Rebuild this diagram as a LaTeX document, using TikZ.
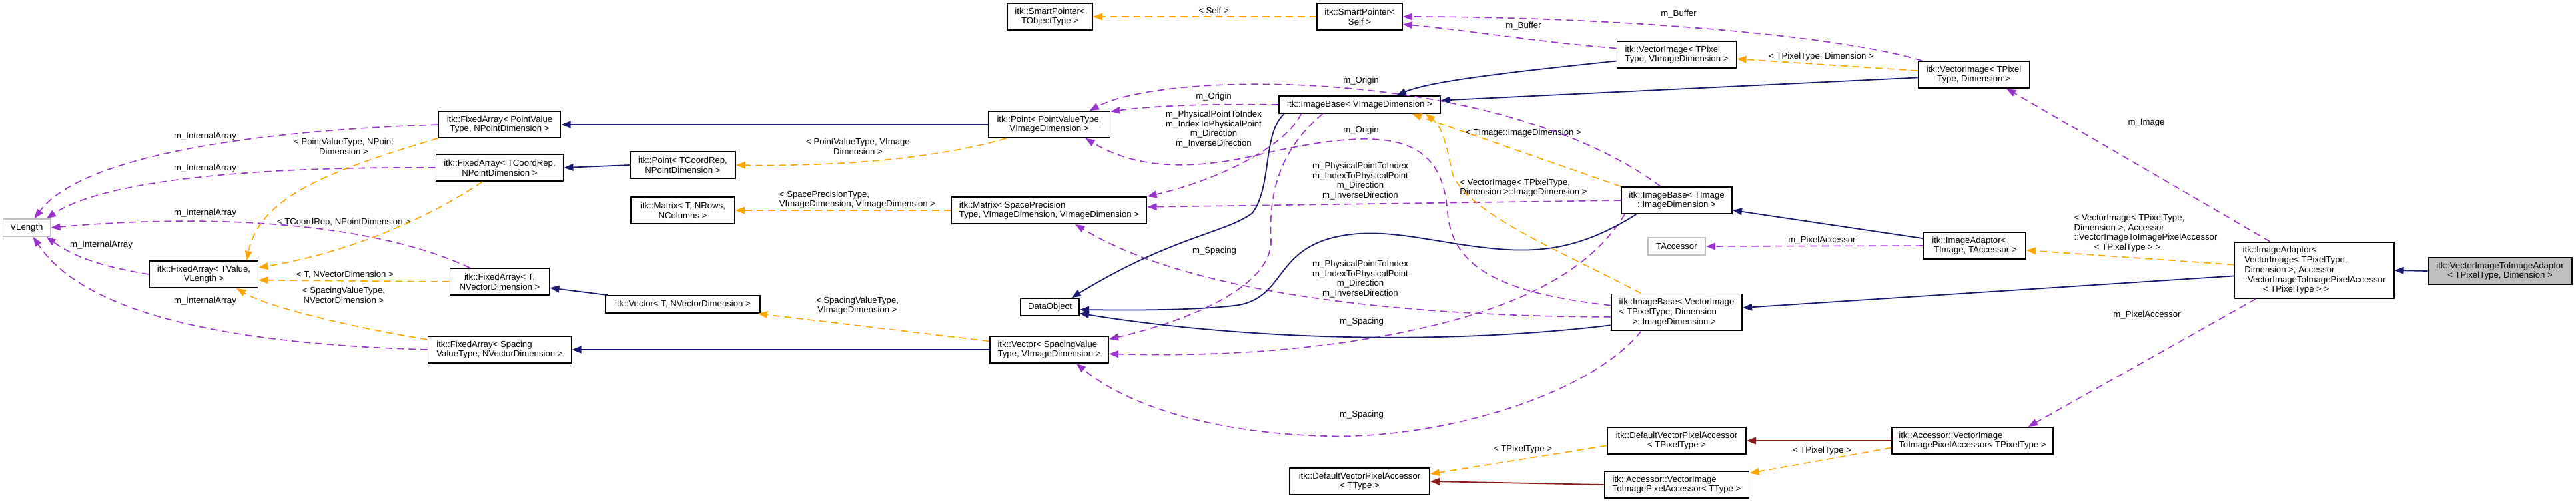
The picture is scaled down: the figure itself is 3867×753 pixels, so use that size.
\documentclass[tikz,border=0pt]{standalone}
\usepackage{fontspec}
\setmainfont{Liberation Sans}
\usetikzlibrary{arrows.meta}

\definecolor{usecol}{HTML}{9A32CD}
\definecolor{tplcol}{HTML}{FFA500}
\definecolor{inhcol}{HTML}{191970}
\definecolor{privcol}{HTML}{8B1A1A}
\definecolor{extcol}{HTML}{BFBFBF}

\tikzset{
  cls/.style={draw, fill=white, line width=0.5pt, align=center, inner sep=1pt,
    font={\fontsize{3.75}{4.2}\selectfont}},
  extcls/.style={cls, draw=extcol},
  lbl/.style={align=center, inner sep=0pt, font={\fontsize{3.75}{4.2}\selectfont}},
  usedge/.style={draw=usecol, line width=0.45pt, dash pattern=on 3pt off 2pt,
    -{Triangle[length=4pt,width=3pt]}},
  tpledge/.style={usedge, draw=tplcol},
  inhedge/.style={draw=inhcol, line width=0.5pt, -{Triangle[length=4pt,width=3pt]}},
  privedge/.style={inhedge, draw=privcol},
}

\begin{document}
\begin{tikzpicture}[x=0.01cm, y=-0.01cm]
	\useasboundingbox (0,0) rectangle (3867,753);
	
	% Clases
	\node[extcls, minimum width=0.71cm, minimum height=0.26cm] (vlen) at (40,342) {VLength};
	\node[cls, minimum width=1.63cm, minimum height=0.40cm] (faval) at (306,412) {itk::FixedArray< TValue,\\VLength >};
	\node[cls, minimum width=1.83cm, minimum height=0.40cm] (fapvt) at (750,187) {itk::FixedArray< PointValue\\Type, NPointDimension >};
	\node[cls, minimum width=1.91cm, minimum height=0.40cm] (facr) at (750,252) {itk::FixedArray< TCoordRep,\\NPointDimension >};
	\node[cls, minimum width=1.49cm, minimum height=0.40cm] (fat) at (750,423) {itk::FixedArray< T,\\NVectorDimension >};
	\node[cls, align=left, minimum width=2.15cm, minimum height=0.40cm] (fasp) at (750,525) {itk::FixedArray< Spacing\\ValueType, NVectorDimension >};
	\node[cls, minimum width=1.58cm, minimum height=0.40cm] (ptcr) at (1025,248) {itk::Point< TCoordRep,\\NPointDimension >};
	\node[cls, minimum width=1.56cm, minimum height=0.40cm] (mxt) at (1025,316) {itk::Matrix< T, NRows,\\NColumns >};
	\node[cls, minimum width=2.32cm, minimum height=0.26cm] (vect) at (1025,457) {itk::Vector< T, NVectorDimension >};
	\node[cls, minimum width=1.28cm, minimum height=0.40cm] (sptot) at (1576,25) {itk::SmartPointer<\\TObjectType >};
	\node[cls, minimum width=1.83cm, minimum height=0.40cm] (ptpvt) at (1575,187) {itk::Point< PointValueType,\\VImageDimension >};
	\node[cls, align=left, minimum width=2.93cm, minimum height=0.40cm] (mxsp) at (1575,316) {itk::Matrix< SpacePrecision\\Type, VImageDimension, VImageDimension >};
	\node[cls, minimum width=0.88cm, minimum height=0.26cm] (dobj) at (1576,461) {DataObject};
	\node[cls, align=left, minimum width=1.78cm, minimum height=0.40cm] (vecsp) at (1575,525) {itk::Vector< SpacingValue\\Type, VImageDimension >};
	\node[cls, minimum width=1.28cm, minimum height=0.40cm] (spself) at (2041,25) {itk::SmartPointer<\\Self >};
	\node[cls, minimum width=2.42cm, minimum height=0.26cm] (ibv) at (2041,157) {itk::ImageBase< VImageDimension >};
	\node[cls, minimum width=2.10cm, minimum height=0.40cm] (dvpt) at (2041,723) {itk::DefaultVectorPixelAccessor\\< TType >};
	\node[cls, align=left, minimum width=1.79cm, minimum height=0.40cm] (vimg) at (2517,82) {itk::VectorImage< TPixel\\Type, VImageDimension >};
	\node[cls, minimum width=1.66cm, minimum height=0.40cm] (ibt) at (2517,301) {itk::ImageBase< TImage\\::ImageDimension >};
	\node[extcls, minimum width=0.86cm, minimum height=0.26cm] (tacc) at (2517,370) {TAccessor};
	\node[cls, align=left, minimum width=1.96cm, minimum height=0.55cm] (ibvi) at (2517,469) {itk::ImageBase< VectorImage\\< TPixelType, Dimension\\\hspace*{1.5em}>::ImageDimension >};
	\node[cls, minimum width=2.08cm, minimum height=0.40cm] (dvpp) at (2517,662) {itk::DefaultVectorPixelAccessor\\< TPixelType >};
	\node[cls, align=left, minimum width=2.17cm, minimum height=0.40cm] (acct) at (2517,728) {itk::Accessor::VectorImage\\ToImagePixelAccessor< TType >};
	\node[cls, minimum width=1.67cm, minimum height=0.40cm] (vimd) at (2963,112) {itk::VectorImage< TPixel\\Type, Dimension >};
	\node[cls, align=left, minimum width=1.54cm, minimum height=0.40cm] (iat) at (2964,369) {itk::ImageAdaptor<\\\hspace*{0.2em}TImage, TAccessor >};
	\node[cls, align=left, minimum width=2.42cm, minimum height=0.40cm] (accp) at (2961,662) {itk::Accessor::VectorImage\\ToImagePixelAccessor< TPixelType >};
	\node[cls, align=left, minimum width=2.39cm, minimum height=0.84cm] (iavi) at (3474,406) {itk::ImageAdaptor<\\\hspace*{0.2em}VectorImage< TPixelType,\\\hspace*{0.2em}Dimension >, Accessor\\::VectorImageToImagePixelAccessor\\\hspace*{2.3em}< TPixelType > >};
	\node[cls, fill=extcol, minimum width=2.15cm, minimum height=0.40cm] (main) at (3753,407) {itk::VectorImageToImageAdaptor\\< TPixelType, Dimension >};
	
	% Etiquetas
	\node[lbl] (lb1) at (308,205) {m\_InternalArray};
	\node[lbl] (lb2) at (308,253) {m\_InternalArray};
	\node[lbl] (lb3) at (308,320) {m\_InternalArray};
	\node[lbl] (lb4) at (152,368) {m\_InternalArray};
	\node[lbl] (lb5) at (308,452) {m\_InternalArray};
	\node[lbl] (lb6) at (516,220) {< PointValueType, NPoint\\Dimension >};
	\node[lbl] (lb7) at (516,334) {< TCoordRep, NPointDimension >};
	\node[lbl] (lb8) at (518,413) {< T, NVectorDimension >};
	\node[lbl] (lb9) at (516,443) {< SpacingValueType,\\NVectorDimension >};
	\node[lbl] (lb10) at (1288,220) {< PointValueType, VImage\\Dimension >};
	\node[lbl, align=left] (lb11) at (1287,300) {< SpacePrecisionType,\\VImageDimension, VImageDimension >};
	\node[lbl] (lb12) at (1287,459) {< SpacingValueType,\\VImageDimension >};
	\node[lbl] (lb13) at (1822,16) {< Self >};
	\node[lbl] (lb14) at (1822,145) {m\_Origin};
	\node[lbl] (lb15) at (1822,194) {m\_PhysicalPointToIndex\\m\_IndexToPhysicalPoint\\m\_Direction\\m\_InverseDirection};
	\node[lbl] (lb16) at (1823,377) {m\_Spacing};
	\node[lbl] (lb17) at (2287,39) {m\_Buffer};
	\node[lbl] (lb18) at (2520,21) {m\_Buffer};
	\node[lbl] (lb19) at (2043,121) {m\_Origin};
	\node[lbl] (lb20) at (2043,196) {m\_Origin};
	\node[lbl] (lb21) at (2287,200) {< TImage::ImageDimension >};
	\node[lbl] (lb22) at (2042,272) {m\_PhysicalPointToIndex\\m\_IndexToPhysicalPoint\\m\_Direction\\m\_InverseDirection};
	\node[lbl, align=left] (lb23) at (2287,282) {< VectorImage< TPixelType,\\Dimension >::ImageDimension >};
	\node[lbl] (lb24) at (2042,419) {m\_PhysicalPointToIndex\\m\_IndexToPhysicalPoint\\m\_Direction\\m\_InverseDirection};
	\node[lbl] (lb25) at (2044,483) {m\_Spacing};
	\node[lbl] (lb26) at (2044,623) {m\_Spacing};
	\node[lbl] (lb27) at (2734,85) {< TPixelType, Dimension >};
	\node[lbl] (lb28) at (2735,361) {m\_PixelAccessor};
	\node[lbl, align=left] (lb29) at (3221,350) {< VectorImage< TPixelType,\\Dimension >, Accessor\\::VectorImageToImagePixelAccessor\\\hspace*{2.3em}< TPixelType > >};
	\node[lbl] (lb30) at (3222,184) {m\_Image};
	\node[lbl] (lb31) at (3223,473) {m\_PixelAccessor};
	\node[lbl] (lb32) at (2286,675) {< TPixelType >};
	\node[lbl] (lb33) at (2735,677) {< TPixelType >};
	
	% Uso
	\draw[usedge] (fapvt.west) .. controls (300,200) and (110,250) .. (vlen.50);
	\draw[usedge] (facr.west) .. controls (350,250) and (150,275) .. (vlen.25);
	\draw[usedge] (fat.155) .. controls (550,330) and (300,322) .. (vlen.east);
	\draw[usedge] (faval.west) .. controls (150,400) and (110,385) .. (vlen.-25);
	\draw[usedge] (fasp.west) .. controls (300,515) and (120,460) .. (vlen.-55);
	\draw[usedge] (vimd.165) .. controls (2750,50) and (2400,25) .. (spself.east);
	\draw[usedge] (vimg.174) .. controls (2300,62) and (2200,45) .. (spself.-10);
	\draw[usedge] (ibv.west) .. controls (1800,155) and (1720,160) .. (ptpvt.12);
	\draw[usedge] (ibt.139) .. controls (2250,100) and (1750,105) .. (ptpvt.19);
	\draw[usedge] (ibvi.174) .. controls (2250,440) and (2180,400) .. (2173,320) .. controls (2165,200) and (2080,190) .. (1900,230) .. controls (1780,260) and (1700,250) .. (ptpvt.-21);
	\draw[usedge] (ibv.-171) .. controls (1930,220) and (1830,270) .. (mxsp.north east);
	\draw[usedge] (ibt.west) -- (mxsp.2);
	\draw[usedge] (ibvi.-176) .. controls (2150,475) and (1800,450) .. (mxsp.-28);
	\draw[usedge] (ibv.-166) .. controls (1915,230) and (1905,300) .. (1908,360) .. controls (1910,440) and (1750,490) .. (vecsp.10);
	\draw[usedge] (ibt.-165) .. controls (2380,420) and (2250,470) .. (2100,500) .. controls (1950,530) and (1800,535) .. (vecsp.-4);
	\draw[usedge] (ibvi.-152) .. controls (2380,600) and (2150,660) .. (1990,655) .. controls (1800,650) and (1680,600) .. (vecsp.-27);
	\draw[usedge] (iat.west) -- (tacc.east);
	\draw[usedge] (iavi.147) -- (vimd.-23);
	\draw[usedge] (iavi.-154) -- (accp.14);
	
	% Plantillas
	\draw[tpledge] (fapvt.south west) .. controls (480,260) and (390,300) .. (faval.18);
	\draw[tpledge] (facr.-141) .. controls (640,330) and (520,380) .. (faval.7);
	\draw[tpledge] (fat.west) -- (faval.-6);
	\draw[tpledge] (fasp.172) .. controls (520,490) and (400,460) .. (faval.-23);
	\draw[tpledge] (ptpvt.-162) .. controls (1400,240) and (1250,250) .. (ptcr.east);
	\draw[tpledge] (mxsp.west) -- (mxt.east);
	\draw[tpledge] (vecsp.172) -- (vect.-7);
	\draw[tpledge] (spself.west) -- (sptot.east);
	\draw[tpledge] (vimd.176) -- (vimg.-4);
	\draw[tpledge] (ibt.166) -- (ibv.-10);
	\draw[tpledge] (ibvi.152) .. controls (2350,380) and (2200,320) .. (2180,260) .. controls (2172,220) and (2165,190) .. (ibv.-8);
	\draw[tpledge] (iavi.176) -- (iat.-5);
	\draw[tpledge] (accp.-175) -- (acct.9);
	\draw[tpledge] (dvpp.-176) -- (dvpt.6);
	
	% Herencia
	\draw[inhedge] (ptpvt.west) -- (fapvt.east);
	\draw[inhedge] (ptcr.west) -- (facr.east);
	\draw[inhedge] (vect.173) -- (fat.-7);
	\draw[inhedge] (vecsp.west) -- (fasp.east);
	\draw[inhedge] (vimg.-174) .. controls (2300,105) and (2150,120) .. (ibv.14);
	\draw[inhedge] (vimd.-177) -- (ibv.3);
	\draw[inhedge] (ibv.-173) .. controls (1895,200) and (1910,280) .. (1880,320) .. controls (1840,350) and (1760,355) .. (dobj.23);
	\draw[inhedge] (ibt.-161) .. controls (2380,370) and (2320,380) .. (2250,374) .. controls (2150,366) and (2070,335) .. (1990,360) .. controls (1915,385) and (1925,445) .. (1860,458) .. controls (1800,466) and (1700,466) .. (dobj.-5);
	\draw[inhedge] (ibvi.-169) .. controls (2200,515) and (1900,515) .. (dobj.-12);
	\draw[inhedge] (iat.172) -- (ibt.-10);
	\draw[inhedge] (iavi.-176) -- (ibvi.4);
	\draw[inhedge] (main.west) -- (iavi.east);
	\draw[privedge] (accp.west) -- (dvpp.east);
	\draw[privedge] (acct.west) -- (dvpt.east);
	
\end{tikzpicture}
\end{document}
